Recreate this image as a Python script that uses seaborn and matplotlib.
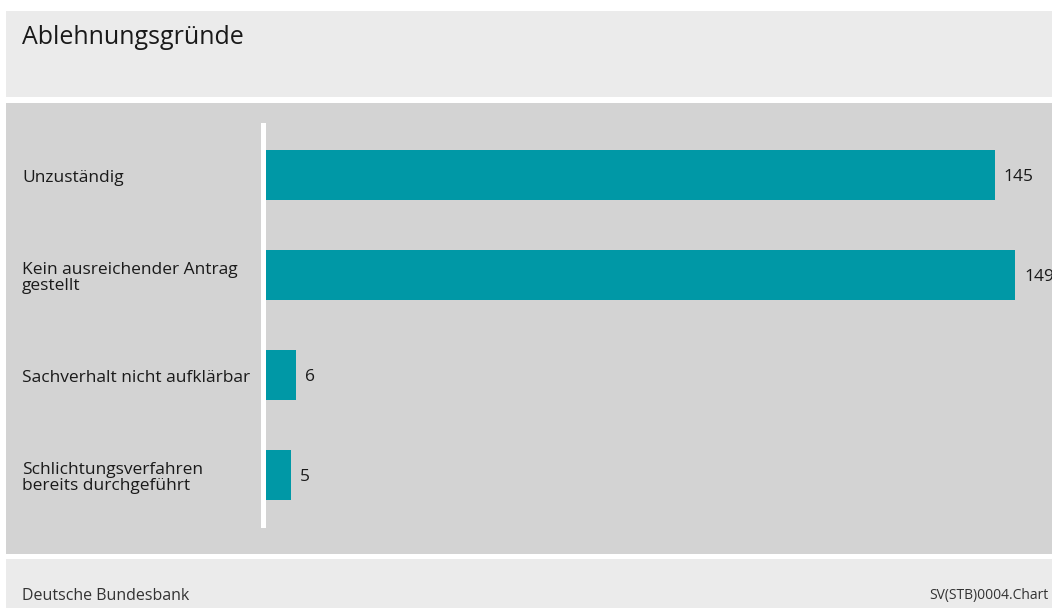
import matplotlib
matplotlib.use("Agg")
import matplotlib.pyplot as plt
from matplotlib.patches import Rectangle
import matplotlib.transforms as mtransforms
import seaborn as sns
import pandas as pd

categories = ["Unzuständig", "Kein ausreichender Antrag\ngestellt",
              "Sachverhalt nicht aufklärbar", "Schlichtungsverfahren\nbereits durchgeführt"]
values = [145, 149, 6, 5]
title = "Ablehnungsgründe"
source = "Deutsche Bundesbank"
chart_id = "SV(STB)0004.Chart"

sns.set_theme(style="white")
plt.rcParams['font.family'] = ['Open Sans', 'DejaVu Sans']

W, H = 1052, 608
fig = plt.figure(figsize=(W / 100, H / 100), dpi=100)
fig.patch.set_facecolor("white")

def band(x0, y0, x1, y1, color):
    fig.patches.append(Rectangle((x0 / W, 1 - y1 / H), (x1 - x0) / W, (y1 - y0) / H,
                                 transform=fig.transFigure, facecolor=color,
                                 edgecolor="none", zorder=-5))

band(6, 11, W, 97, "#ebebeb")
band(6, 103, W, 554, "#d3d3d3")
band(6, 559, W, H, "#ebebeb")

ax_left, ax_right, ax_top, ax_bot = 266, 1040, 125, 525
ax = fig.add_axes([ax_left / W, 1 - ax_bot / H, (ax_right - ax_left) / W, (ax_bot - ax_top) / H])
ax.set_facecolor("none")
ax.set_zorder(2)

df = pd.DataFrame({"cat": categories, "val": values})
sns.barplot(data=df, x="val", y="cat", orient="h", color="#0098a6", saturation=1,
            width=0.5, ax=ax, edgecolor="none")

px_per_unit = (1015 - 266) / 149
ax.set_xlim(0, (ax_right - ax_left) / px_per_unit)
ax.set_ylim(3.5, -0.5)

for s in ["top", "right", "bottom"]:
    ax.spines[s].set_visible(False)
ax.spines["left"].set_color("white")
ax.spines["left"].set_linewidth(3.6)
ax.spines["left"].set_position(("outward", 2.5))

ax.set_xticks([])
ax.set_yticks([])
ax.set_xlabel("")
ax.set_ylabel("")

label_tf = mtransforms.blended_transform_factory(fig.transFigure, ax.transData)
for i, (c, v) in enumerate(zip(categories, values)):
    ax.annotate(str(v), (v, i), xytext=(6.5, -1.5), textcoords="offset points",
                ha="left", va="center", fontsize=12.5, color="#1a1a1a", annotation_clip=False)
    ax.annotate(c, (22 / W, i), xycoords=label_tf, xytext=(0, -2), textcoords="offset points",
                ha="left", va="center", fontsize=12.5, fontweight="medium", color="#1a1a1a",
                linespacing=1.0, annotation_clip=False)

fig.text(22 / W, 1 - 37 / H, title, ha="left", va="center", fontsize=18, color="#1a1a1a")
fig.text(22 / W, 1 - 596 / H, source, ha="left", va="center", fontsize=11.5, color="#333333")
fig.text(1048 / W, 1 - 596 / H, chart_id, ha="right", va="center", fontsize=10, color="#333333")

fig.savefig("out.png", dpi=100)
